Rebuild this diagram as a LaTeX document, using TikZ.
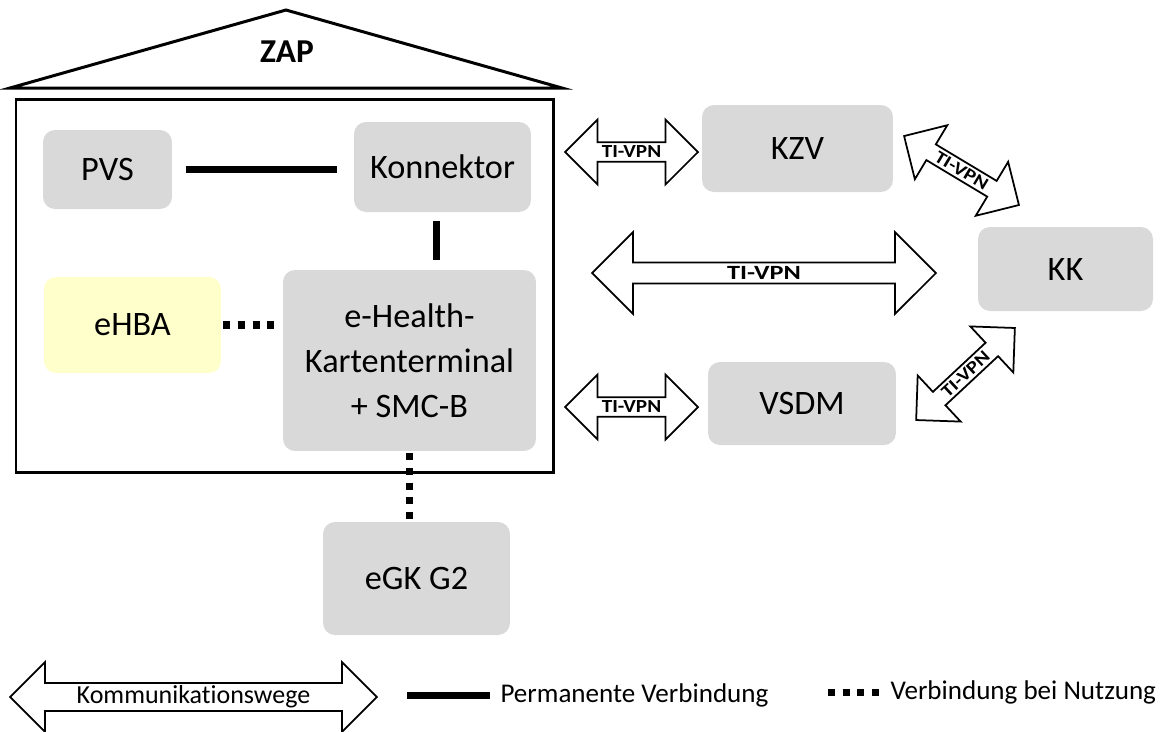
\documentclass[tikz,border=0pt]{standalone}
\usepackage{fontspec}
\setmainfont{Carlito}[Ligatures=NoCommon]
\usetikzlibrary{shapes.arrows}

\definecolor{boxgray}{HTML}{D9D9D9}
\definecolor{cardyellow}{HTML}{FFFFCC}

% widened bold label inside the arrows
\newcommand{\vpnlabel}[2]{\scalebox{#1}[1]{\bfseries\fontsize{#2}{#2}\selectfont TI-VPN}}

\tikzset{
	outline/.style={line width=1.7pt},
	box/.style={fill=boxgray, rounded corners=0.24cm, inner sep=0pt, align=center,
		font=\fontsize{19.5}{25.5}\selectfont},
	vpn/.style={double arrow, draw, line width=1pt, fill=white, inner sep=0pt,
		double arrow head extend=0.32cm, minimum width=1.3cm, minimum height=2.66cm},
	permanent/.style={line width=4pt},
	usage/.style={line width=4pt, dash pattern=on 4pt off 4.3pt},
	legendtext/.style={anchor=west, inner sep=0pt, font=\fontsize{15.4}{18}\selectfont}
}

\begin{document}
\begin{tikzpicture}[x=0.02cm, y=-0.02cm]
	\useasboundingbox (0,0) rectangle (1165,731);
	
	%roof and practice box
	\draw[outline] (10,88)--(286,10)--(562,88)--cycle;
	\node[font=\bfseries\fontsize{19}{23}\selectfont] (zap) at (287,52) {ZAP};
	\draw[outline] (16,99) rectangle (553,472);
	
	%components - inside
	\node[box, minimum width=2.58cm, minimum height=1.58cm] (pvs) at (107.5,169.5) {PVS};
	\node[box, minimum width=3.54cm, minimum height=1.80cm] (konn) at (442.5,167) {Konnektor};
	\node[box, fill=cardyellow, minimum width=3.54cm, minimum height=1.92cm] (ehba) at (132.5,325) {eHBA};
	\node[box, minimum width=5.06cm, minimum height=3.62cm] (term) at (409.5,360.5) {e-Health-\\Kartenterminal\\+ SMC-B};
	
	%components - outside
	\node[box, minimum width=3.74cm, minimum height=2.26cm] (egk) at (416.5,578.5) {eGK G2};
	\node[box, minimum width=3.82cm, minimum height=1.74cm] (kzv) at (797.5,148.5) {KZV};
	\node[box, minimum width=3.50cm, minimum height=1.68cm] (kk) at (1065.5,269) {KK};
	\node[box, minimum width=3.76cm, minimum height=1.66cm] (vsdm) at (802,403.5) {VSDM};
	
	%connections
	\draw[permanent, shorten <=14*0.02cm, shorten >=17*0.02cm] (pvs.east)--(pvs.east -| konn.west);	%PVS-Konnektor
	\draw[permanent, shorten <=9*0.02cm, shorten >=10*0.02cm] ([xshift=-6*0.02cm]konn.south)--([xshift=-6*0.02cm]konn.south |- term.north);	%Konnektor-Terminal
	\draw[usage, shorten <=2*0.02cm, shorten >=5*0.02cm] (ehba.east)--(ehba.east -| term.west);		%eHBA-Terminal
	\draw[usage, shorten <=2*0.02cm] (term.south)--(term.south |- egk.north);				%Terminal-eGK
	
	%arrows - TI-VPN
	\node[vpn] (vpnkzv) at (631.5,152) {\vpnlabel{1.15}{10.5}};
	\node[vpn, minimum height=6.88cm, minimum width=1.64cm, double arrow head extend=0.43cm] (vpnkk) at (764,273) {\vpnlabel{1.3}{11.5}};
	\node[vpn] (vpnvsdm) at (631.5,407) {\vpnlabel{1.15}{10.5}};
	\node[vpn, rotate=-31, minimum height=2.68cm, minimum width=1.26cm] (vpnkzvkk) at (961.5,170.5) {\vpnlabel{1.2}{10}};
	\node[vpn, rotate=43, minimum height=2.7cm, minimum width=1.26cm] (vpnvsdmkk) at (965.5,374) {\vpnlabel{1.2}{10}};
	
	%legend
	\node[vpn, minimum height=7.34cm, minimum width=1.4cm, double arrow head extend=0.36cm,
		font=\fontsize{14.8}{18}\selectfont] (lgvpn) at (193.5,697) {Kommunikationswege};
	\coordinate (lgperm) at (407,695);
	\draw[permanent] (lgperm)--++(83,0) node[legendtext, right=7*0.02cm] (lgpermtext) {Permanente Verbindung};
	\coordinate (lguse) at (828,692);
	\draw[usage] (lguse)--++(55,0) node[legendtext, right=4*0.02cm] (lgusetext) {Verbindung bei Nutzung};
	
\end{tikzpicture}
\end{document}
